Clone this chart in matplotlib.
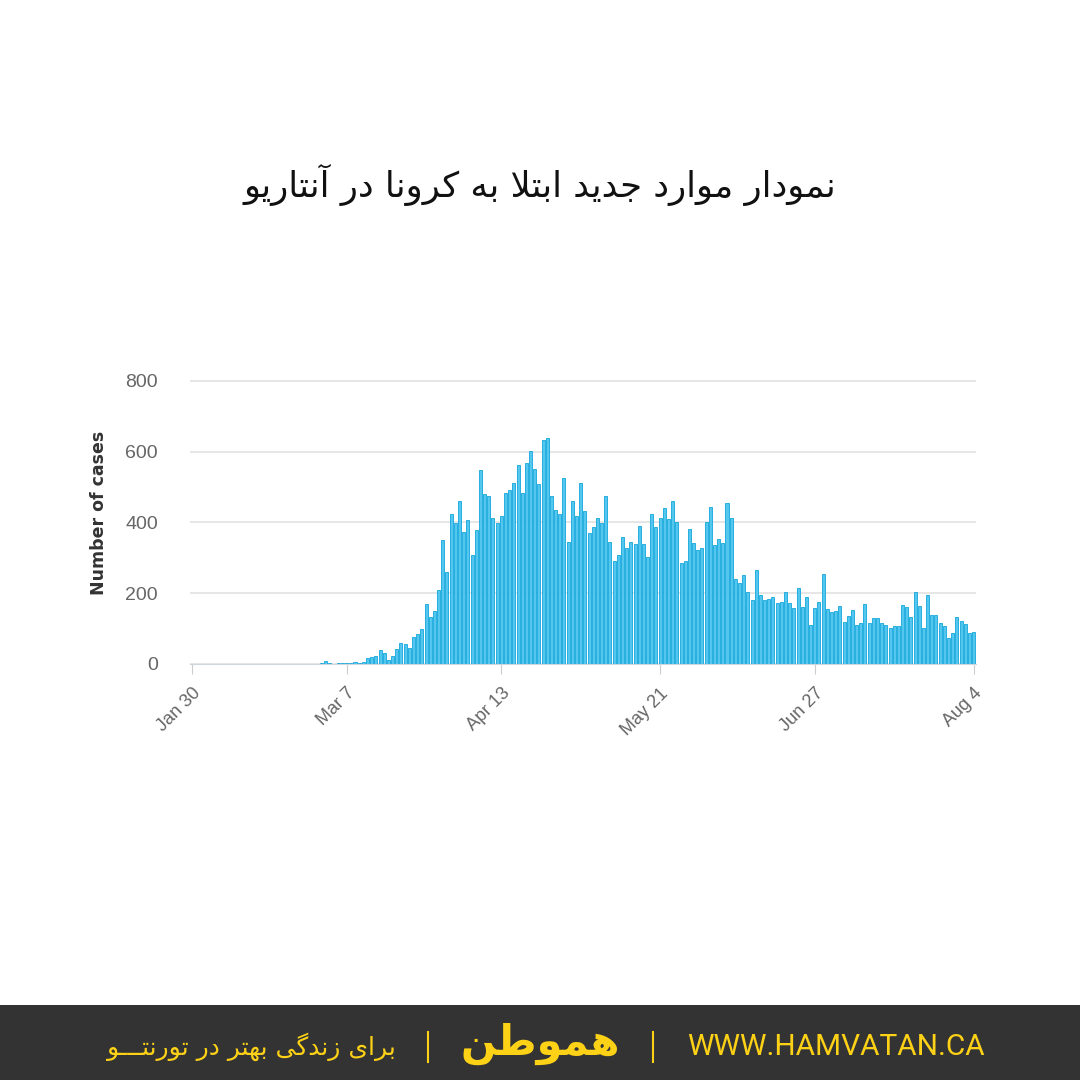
import matplotlib
matplotlib.use("Agg")
import matplotlib.pyplot as plt
import numpy as np
import pandas as pd
from matplotlib.lines import Line2D
from matplotlib.patches import Rectangle

# Donnees (cas quotidiens en Ontario, 30 jan -> 4 aout)
start_date = "2020-01-30"
new_cases = [
    1, 0, 0, 0, 1,
    0, 0, 0, 0, 0, 0, 0, 0, 0, 0, 0, 0, 0, 0, 0, 0, 0, 0, 0, 0,
    1, 0, 1, 1, 1, 0, 3,
    9, 2, 0, 3, 4, 3, 2, 5, 3, 5,
    16, 21, 24, 40, 30, 10, 24, 42, 58, 56,
    46, 77, 84, 99, 169, 132, 150, 209, 350, 259,
    424, 399, 461, 373, 407, 307, 378, 548, 480, 475,
    411, 399, 419, 482, 491, 512, 562, 484, 567, 603,
    550, 508, 633, 638, 475, 435, 423, 524, 346, 459,
    419, 510, 433, 369, 386, 411, 397, 475, 344, 292,
    307, 360, 327, 345, 340, 390, 339, 303, 425, 388,
    411, 440, 410, 459, 402, 284, 290, 382, 342, 321,
    327, 402, 444, 336, 354, 343, 454, 413, 241, 228,
    250, 202, 181, 266, 195, 181, 184, 188, 171, 176,
    204, 173, 159, 216, 162, 188, 110, 159, 176, 254,
    156, 148, 151, 164, 120, 136, 153, 110, 117, 169,
    115, 129, 129, 115, 110, 101, 108, 108, 166, 162,
    134, 202, 165, 101, 195, 137, 137, 117, 108, 74,
    87, 134, 122, 113, 87, 89,
]
tick_dates = ["2020-01-30", "2020-03-07", "2020-04-13", "2020-05-21", "2020-06-27", "2020-08-04"]
tick_labels = ["Jan 30", "Mar 7", "Apr 13", "May 21", "Jun 27", "Aug 4"]
y_ticks = [0, 200, 400, 600, 800]

title_fa = "نمودار موارد جدید ابتلا به کرونا در آنتاریو"
slogan_fa = "برای زندگی بهتر در تورنتـــو"
logo_fa = "هموطن"
site_url = "WWW.HAMVATAN.CA"

# formes contextuelles (isole, final, initial, median) - matplotlib ne fait pas le shaping arabe
FORMS = {
    "ا": ("\uFE8D", "\uFE8E"), "آ": ("\uFE81", "\uFE82"),
    "د": ("\uFEA9", "\uFEAA"), "ر": ("\uFEAD", "\uFEAE"),
    "ز": ("\uFEAF", "\uFEB0"), "و": ("\uFEED", "\uFEEE"),
    "ب": ("\uFE8F", "\uFE90", "\uFE91", "\uFE92"),
    "ت": ("\uFE95", "\uFE96", "\uFE97", "\uFE98"),
    "ج": ("\uFE9D", "\uFE9E", "\uFE9F", "\uFEA0"),
    "ط": ("\uFEC1", "\uFEC2", "\uFEC3", "\uFEC4"),
    "ل": ("\uFEDD", "\uFEDE", "\uFEDF", "\uFEE0"),
    "م": ("\uFEE1", "\uFEE2", "\uFEE3", "\uFEE4"),
    "ن": ("\uFEE5", "\uFEE6", "\uFEE7", "\uFEE8"),
    "ه": ("\uFEE9", "\uFEEA", "\uFEEB", "\uFEEC"),
    "ی": ("\uFBFC", "\uFBFD", "\uFBFE", "\uFBFF"),
    "ک": ("\uFB8E", "\uFB8F", "\uFB90", "\uFB91"),
    "گ": ("\uFB92", "\uFB93", "\uFB94", "\uFB95"),
    "ـ": ("ـ", "ـ", "ـ", "ـ"),
}
LAM_ALEF = {"ا": ("\uFEFB", "\uFEFC"), "آ": ("\uFEF5", "\uFEF6")}


def joins_forward(c):
    return c in FORMS and len(FORMS[c]) == 4


def shape(text):
    out = []
    i = 0
    while i < len(text):
        c = text[i]
        if c not in FORMS:
            out.append(c)
            i += 1
            continue
        prev = text[i - 1] if i > 0 else ""
        nxt = text[i + 1] if i + 1 < len(text) else ""
        jp = joins_forward(prev)
        if c == "ل" and nxt in LAM_ALEF:
            out.append(LAM_ALEF[nxt][1] if jp else LAM_ALEF[nxt][0])
            i += 2
            continue
        jn = joins_forward(c) and nxt in FORMS
        f = FORMS[c]
        if jp and jn:
            out.append(f[3])
        elif jp:
            out.append(f[1])
        elif jn:
            out.append(f[2])
        else:
            out.append(f[0])
        i += 1
    return "".join(reversed(out))


dates = pd.date_range(start_date, periods=len(new_cases))
x = np.arange(len(new_cases))
tick_pos = [(pd.Timestamp(d) - dates[0]).days for d in tick_dates]

W = 1080
fig = plt.figure(figsize=(10.8, 10.8), dpi=100)
fig.patch.set_facecolor("white")

ax = fig.add_axes([189.9 / W, 1 - 664 / W, 785.8 / W, 285 / W])
ax.bar(x, new_cases, width=0.72, color="#55c7ef", edgecolor="#10a6dc", linewidth=0.6, zorder=2)
ax.set_xlim(-0.5, len(new_cases) - 0.5)
ax.set_ylim(0, 805)
ax.set_facecolor("white")

ax.set_yticks(y_ticks)
ax.grid(axis="y", color="#e4e4e4", linewidth=1.3)
ax.set_axisbelow(True)
for s in ["left", "right", "top"]:
    ax.spines[s].set_visible(False)
ax.spines["bottom"].set_color("#cfd6de")

ax.set_xticks(tick_pos)
ax.set_xticklabels(tick_labels, rotation=45, ha="right", rotation_mode="anchor")
ax.tick_params(axis="y", length=0, pad=23, labelsize=14, labelcolor="#666666")
ax.tick_params(axis="x", length=7, color="#cccccc", pad=8, labelsize=13, labelcolor="#666666")
for lab in ax.get_xticklabels() + ax.get_yticklabels():
    lab.set_family("Liberation Sans")

ax.set_ylabel("Number of cases", fontsize=12.5, fontweight="bold", color="#333333")
ax.yaxis.set_label_coords(-0.104, 0.53)

fig.text(0.5, 1 - 185 / W, shape(title_fa), ha="center", va="center", fontsize=25.5, color="#111111")

# bandeau du bas
yellow = "#fcd116"
fig.add_artist(Rectangle((0, 0), 1, 75 / W, transform=fig.transFigure,
                         facecolor="#333333", edgecolor="none", zorder=1))
fy = 33 / W
fig.text(251 / W, fy, shape(slogan_fa), ha="center", va="center", fontsize=18,
         color=yellow, zorder=2)
fig.text(540 / W, fy + 0.003, shape(logo_fa), ha="center", va="center", fontsize=30,
         fontweight="bold", color=yellow, zorder=2)
fig.text(836 / W, fy, site_url, ha="center", va="center", fontsize=21.5, color=yellow,
         family="Roboto", zorder=2)
for sx in [428, 653]:
    fig.add_artist(Line2D([sx / W, sx / W], [18 / W, 48 / W], transform=fig.transFigure,
                          color=yellow, linewidth=1.5, zorder=2))

fig.savefig("out.png", dpi=100)
